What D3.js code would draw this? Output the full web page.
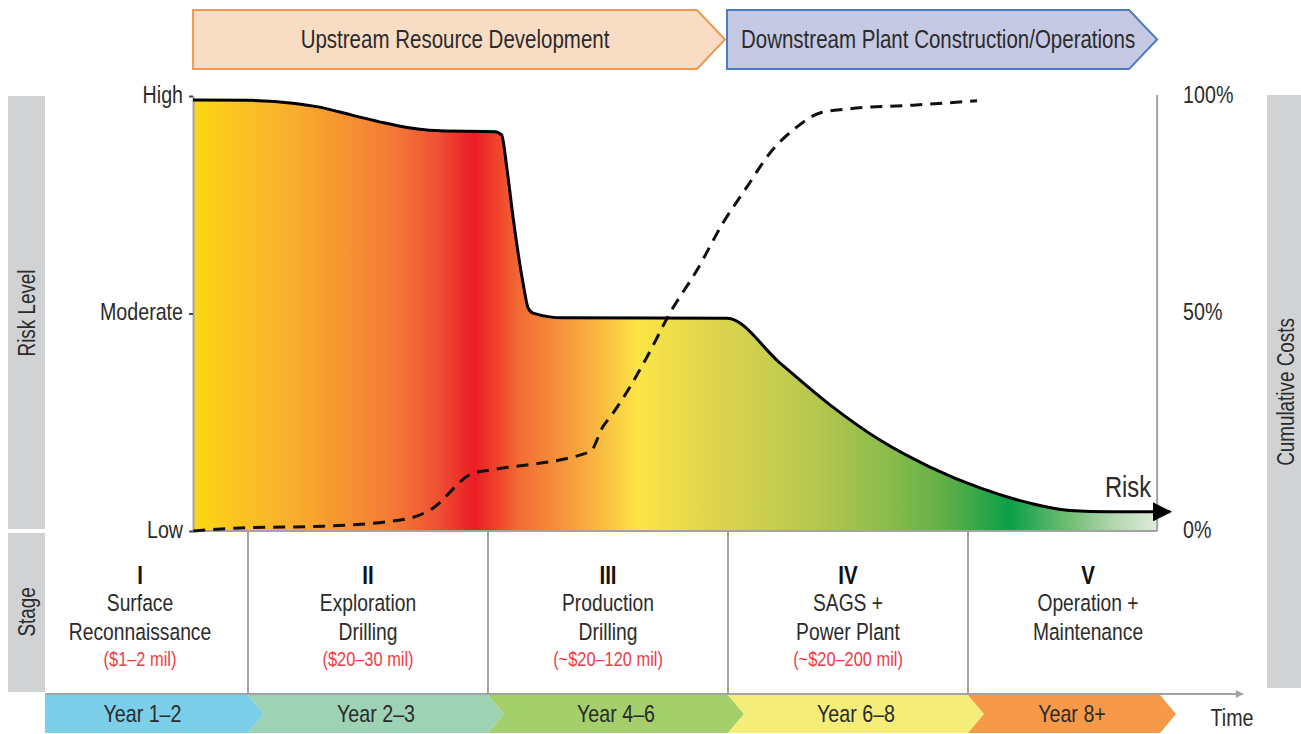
<!DOCTYPE html>
<html>
<head>
<meta charset="utf-8">
<script src="https://cdn.jsdelivr.net/npm/d3@7"></script>
<style>
    body { margin: 0; background: #fff; }
    text { font-family: "Liberation Sans", Arial, Helvetica, sans-serif; fill: #2b2b2b; }
</style>
</head>
<body>
<div id="chart"></div>
<script>

// time is measured in "stage units": stage boundaries fall on 1, 2, 3, 4
var riskTime  = [0.771, 1.008, 1.196, 1.292, 1.433, 1.571, 1.708, 1.8, 2.029, 2.057, 2.078, 2.104, 2.146, 2.167, 2.188, 2.313, 2.996, 3.217, 3.425, 3.633, 3.842, 4.05, 4.258, 4.425, 4.592, 4.842];
var riskLevel = [99.1, 99.0, 98.3, 97.5, 95.6, 93.8, 92.4, 92.0, 91.8, 91.0, 83.7, 72.3, 57.0, 51.3, 50.1, 49.0, 48.9, 38.6, 29.0, 20.9, 14.7, 9.9, 6.4, 4.7, 4.4, 4.4];

var costTime  = [0.772, 0.967, 1.3125, 1.6625, 1.758, 1.9375, 2.008, 2.425, 2.479, 2.521, 2.6625, 2.758, 2.871, 2.979, 3.079, 3.175, 3.2875, 3.383, 3.496, 3.771, 4.0375];
var costShare = [0, 0.7, 1.1, 2.8, 4.8, 13.3, 14.0, 18.2, 24.0, 27.1, 40.0, 50.1, 60.0, 70.8, 79.1, 86.9, 92.9, 96.1, 97.0, 97.9, 98.9];

var axisTicks = [0, 50, 100];
var riskTickLabels = ["Low", "Moderate", "High"];
var costTickLabels = ["0%", "50%", "100%"];

var plotDomain = [0.771, 4.788];

var phaseBounds = [0.771, 3, 4.788];
var phaseLabels = ["Upstream Resource Development", "Downstream Plant Construction/Operations"];

var stageBounds = [0.1, 1, 2, 3, 4, 5];
var stageNumerals = ["I", "II", "III", "IV", "V"];
var stageLine1 = ["Surface", "Exploration", "Production", "SAGS +", "Operation +"];
var stageLine2 = ["Reconnaissance", "Drilling", "Drilling", "Power Plant", "Maintenance"];
var stageCosts = ["($1\u20132 mil)", "($20\u201330 mil)", "(~$20\u2013120 mil)", "(~$20\u2013200 mil)", ""];

var yearBounds = [0.154, 1, 2, 3, 4, 4.8];
var yearLabels = ["Year 1\u20132", "Year 2\u20133", "Year 4\u20136", "Year 6\u20138", "Year 8+"];


// the original uses a condensed face, so text is squeezed horizontally
var NARROW = " scale(0.82,1)";

RiskVis = function(_parentElement) {
    this.parentElement = _parentElement;
    this.initVis();
};

RiskVis.prototype.initVis = function() {
    var vis = this;

    vis.width = 1301;
    vis.height = 734;

    vis.svg = d3.select("#" + vis.parentElement).append("svg")
        .attr("width", vis.width)
        .attr("height", vis.height);

    vis.x = d3.scaleLinear().domain([0, 5]).range([8, 1208]);
    vis.y = d3.scaleLinear().domain([0, 100]).range([531, 96]);

    vis.plotLeft = vis.x(plotDomain[0]);
    vis.plotRight = vis.x(plotDomain[1]);

    vis.phaseFill = ["#f9dcc4", "#c5c9e4"];
    vis.phaseStroke = ["#ec9a52", "#4c7cbf"];
    vis.yearColors = ["#7ccfe9", "#9dd3b4", "#a4cf6b", "#f4ed7a", "#f69a49"];
    vis.gray = "#d1d2d4";
    vis.lineGray = "#a3a3a3";

    // risk gradient, from yellow through red and yellow again to green
    vis.gradient = [
        [0, "#fdd716"], [0.1, "#f9af2c"], [0.205, "#f47c36"], [0.255, "#ef4f33"],
        [0.292, "#ec1c24"], [0.34, "#f26d33"], [0.412, "#f8b040"], [0.462, "#fde546"],
        [0.54, "#ddd54d"], [0.643, "#b8c84e"], [0.713, "#8fbd4c"], [0.765, "#6cb249"],
        [0.785, "#5bae47"], [0.847, "#0aa048"], [0.906, "#6dbc70"], [0.958, "#b5d8b1"], [1, "#dfebdb"]
    ];

    var defs = vis.svg.append("defs");
    defs.append("linearGradient")
        .attr("id", "riskGradient")
        .attr("gradientUnits", "userSpaceOnUse")
        .attr("x1", vis.plotLeft).attr("x2", vis.plotRight)
        .attr("y1", 0).attr("y2", 0)
        .selectAll("stop")
        .data(vis.gradient)
        .enter().append("stop")
        .attr("offset", function(d) { return d[0]; })
        .attr("stop-color", function(d) { return d[1]; });

    defs.append("clipPath").attr("id", "plotClip")
        .append("rect")
        .attr("x", vis.plotLeft).attr("y", 0)
        .attr("width", vis.plotRight - vis.plotLeft).attr("height", vis.y(0));

    defs.append("marker")
        .attr("id", "arrowHead")
        .attr("viewBox", "0 0 10 10")
        .attr("refX", 9).attr("refY", 5)
        .attr("markerUnits", "userSpaceOnUse")
        .attr("markerWidth", 29).attr("markerHeight", 19)
        .attr("orient", "auto")
        .append("path").attr("d", "M0,0L10,5L0,10Z").attr("fill", "#000");

    defs.append("marker")
        .attr("id", "grayHead")
        .attr("viewBox", "0 0 10 10")
        .attr("refX", 9).attr("refY", 5)
        .attr("markerUnits", "userSpaceOnUse")
        .attr("markerWidth", 18).attr("markerHeight", 8)
        .attr("orient", "auto")
        .append("path").attr("d", "M0,0L10,5L0,10Z").attr("fill", vis.lineGray);

    vis.drawSideBoxes();
    vis.drawPhases();
    vis.drawPlot();
    vis.drawStages();
    vis.drawYears();
};

RiskVis.prototype.drawSideBoxes = function() {
    var vis = this;

    var boxes = [
        { x: 8, y: 96, w: 37, h: 433, cx: 27, cy: 313, label: "Risk Level" },
        { x: 8, y: 533, w: 37, h: 159, cx: 27, cy: 612, label: "Stage" },
        { x: 1267, y: 95, w: 40, h: 593, cx: 1286, cy: 392, label: "Cumulative Costs" }
    ];

    var g = vis.svg.append("g").attr("class", "side-boxes");
    g.selectAll("rect").data(boxes).enter().append("rect")
        .attr("x", function(d) { return d.x; })
        .attr("y", function(d) { return d.y; })
        .attr("width", function(d) { return d.w; })
        .attr("height", function(d) { return d.h; })
        .attr("fill", vis.gray);

    g.selectAll("text").data(boxes).enter().append("text")
        .attr("transform", function(d) {
            return "translate(" + d.cx + "," + d.cy + ") rotate(-90)" + NARROW;
        })
        .attr("text-anchor", "middle")
        .attr("dy", "0.35em")
        .style("font-size", "23px")
        .text(function(d) { return d.label; });
};

RiskVis.prototype.drawPhases = function() {
    var vis = this;

    var top = 10, bottom = 69, tip = 28;
    var mid = (top + bottom) / 2;

    var phases = phaseLabels.map(function(label, i) {
        var x0 = vis.x(phaseBounds[i]) + (i > 0 ? -1 : 0);
        var x1 = vis.x(phaseBounds[i + 1]) + (i == 0 ? -3 : 0);
        return { label: label, x0: x0, x1: x1 };
    });

    var g = vis.svg.append("g").attr("class", "phases");
    g.selectAll("path").data(phases).enter().append("path")
        .attr("d", function(d) {
            return "M" + d.x0 + "," + top + "L" + (d.x1 - tip) + "," + top + "L" + d.x1 + "," + mid +
                "L" + (d.x1 - tip) + "," + bottom + "L" + d.x0 + "," + bottom + "Z";
        })
        .attr("fill", function(d, i) { return vis.phaseFill[i]; })
        .attr("stroke", function(d, i) { return vis.phaseStroke[i]; })
        .attr("stroke-width", 2);

    g.selectAll("text").data(phases).enter().append("text")
        .attr("transform", function(d) {
            return "translate(" + ((d.x0 + d.x1) / 2 - 4) + "," + mid + ")" + NARROW;
        })
        .attr("dy", "0.35em")
        .attr("text-anchor", "middle")
        .style("font-size", "25px")
        .text(function(d) { return d.label; });
};

RiskVis.prototype.drawPlot = function() {
    var vis = this;

    var riskData = riskTime.map(function(t, i) { return [t, riskLevel[i]]; });
    var costData = costTime.map(function(t, i) { return [t, costShare[i]]; });

    var area = d3.area()
        .x(function(d) { return vis.x(d[0]); })
        .y0(vis.y(0))
        .y1(function(d) { return vis.y(d[1]); })
        .curve(d3.curveMonotoneX);

    var line = d3.line()
        .x(function(d) { return vis.x(d[0]); })
        .y(function(d) { return vis.y(d[1]); })
        .curve(d3.curveMonotoneX);

    vis.svg.append("path")
        .datum(riskData)
        .attr("clip-path", "url(#plotClip)")
        .attr("d", area)
        .attr("fill", "url(#riskGradient)");

    // axes
    var leftAxis = d3.axisLeft(vis.y)
        .tickValues(axisTicks)
        .tickFormat(function(d, i) { return riskTickLabels[i]; })
        .tickSizeInner(4).tickSizeOuter(0);

    var rightAxis = d3.axisRight(vis.y)
        .tickValues(axisTicks)
        .tickFormat(function(d, i) { return costTickLabels[i]; })
        .tickSize(0);

    var gl = vis.svg.append("g")
        .attr("class", "axis")
        .attr("transform", "translate(" + vis.plotLeft + ",0)")
        .call(leftAxis);

    var gr = vis.svg.append("g")
        .attr("class", "axis")
        .attr("transform", "translate(" + vis.plotRight + ",0)")
        .call(rightAxis);

    [[gl, -10], [gr, 26]].forEach(function(a) {
        var g = a[0];
        g.attr("font-family", null).attr("font-size", null);
        g.select(".domain").attr("stroke", vis.lineGray).attr("stroke-width", 2);
        g.selectAll(".tick line").attr("stroke", "#444").attr("stroke-width", 2);
        g.selectAll(".tick text")
            .attr("x", null)
            .attr("transform", "translate(" + a[1] + ",0)" + NARROW)
            .style("font-size", "24px").attr("fill", "#2b2b2b").attr("dy", "0.25em");
    });
    gr.select(".domain").attr("d", "M0," + (vis.y(100) - 1) + "V" + vis.y(0));

    vis.svg.append("line")
        .attr("x1", vis.plotLeft).attr("x2", vis.plotRight)
        .attr("y1", vis.y(0)).attr("y2", vis.y(0))
        .attr("stroke", vis.lineGray).attr("stroke-width", 2);

    // cumulative costs
    vis.svg.append("path")
        .datum(costData)
        .attr("d", line)
        .attr("fill", "none")
        .attr("stroke", "#111")
        .attr("stroke-width", 3)
        .attr("stroke-dasharray", "12,8");

    // risk line
    vis.svg.append("path")
        .datum(riskData)
        .attr("d", line)
        .attr("fill", "none")
        .attr("stroke", "#000")
        .attr("stroke-width", 3)
        .attr("stroke-linejoin", "round")
        .attr("marker-end", "url(#arrowHead)");

    vis.svg.append("text")
        .attr("transform", "translate(" + (vis.plotRight - 6) + ",497)" + NARROW)
        .attr("text-anchor", "end")
        .style("font-size", "29px")
        .attr("fill", "#333")
        .text("Risk");
};

RiskVis.prototype.drawStages = function() {
    var vis = this;

    var top = vis.y(0), bottom = 694;
    var g = vis.svg.append("g").attr("class", "stages");

    g.selectAll("line.divider")
        .data(stageBounds.slice(1, 5))
        .enter().append("line")
        .attr("class", "divider")
        .attr("x1", function(d) { return vis.x(d); })
        .attr("x2", function(d) { return vis.x(d); })
        .attr("y1", top).attr("y2", bottom)
        .attr("stroke", vis.lineGray).attr("stroke-width", 2);

    g.append("line")
        .attr("x1", 45).attr("x2", 1243)
        .attr("y1", bottom).attr("y2", bottom)
        .attr("stroke", vis.lineGray).attr("stroke-width", 2)
        .attr("marker-end", "url(#grayHead)");

    var cells = g.selectAll("g.cell")
        .data(stageNumerals)
        .enter().append("g")
        .attr("class", "cell")
        .attr("transform", function(d, i) {
            return "translate(" + vis.x((stageBounds[i] + stageBounds[i + 1]) / 2) + ",0)";
        });

    var rows = [
        { y: 575, size: "25px", weight: "bold", color: "#111", text: stageNumerals },
        { y: 603, size: "23.5px", weight: "normal", color: "#2b2b2b", text: stageLine1 },
        { y: 632, size: "23.5px", weight: "normal", color: "#2b2b2b", text: stageLine2 },
        { y: 659, size: "20px", weight: "normal", color: "#ee3b43", text: stageCosts }
    ];

    rows.forEach(function(r) {
        cells.append("text")
            .attr("transform", "translate(0," + r.y + ")" + NARROW)
            .attr("dy", "0.35em")
            .attr("text-anchor", "middle")
            .style("font-size", r.size)
            .style("font-weight", r.weight)
            .style("fill", r.color)
            .text(function(d, i) { return r.text[i]; });
    });
};

RiskVis.prototype.drawYears = function() {
    var vis = this;

    var top = 695, bottom = 733, tip = 16;
    var mid = (top + bottom) / 2;

    var years = yearLabels.map(function(label, i) {
        return { label: label, x0: vis.x(yearBounds[i]), x1: vis.x(yearBounds[i + 1]), notch: i > 0 };
    });

    var g = vis.svg.append("g").attr("class", "years");
    g.selectAll("path").data(years).enter().append("path")
        .attr("d", function(d) {
            var p = "M" + d.x0 + "," + top + "L" + d.x1 + "," + top + "L" + (d.x1 + tip) + "," + mid +
                "L" + d.x1 + "," + bottom + "L" + d.x0 + "," + bottom;
            if (d.notch) p += "L" + (d.x0 + tip) + "," + mid;
            return p + "Z";
        })
        .attr("fill", function(d, i) { return vis.yearColors[i]; });

    g.selectAll("text").data(years).enter().append("text")
        .attr("transform", function(d) {
            var cx = (d.x0 + d.x1) / 2 + (d.notch ? tip / 2 : -4);
            return "translate(" + cx + "," + mid + ")" + NARROW;
        })
        .attr("dy", "0.35em")
        .attr("text-anchor", "middle")
        .style("font-size", "24px")
        .attr("fill", "#222")
        .text(function(d) { return d.label; });

    vis.svg.append("text")
        .attr("transform", "translate(1232,718)" + NARROW)
        .attr("dy", "0.35em")
        .attr("text-anchor", "middle")
        .style("font-size", "24px")
        .text("Time");
};

var riskVis = new RiskVis("chart");

</script>
</body>
</html>
